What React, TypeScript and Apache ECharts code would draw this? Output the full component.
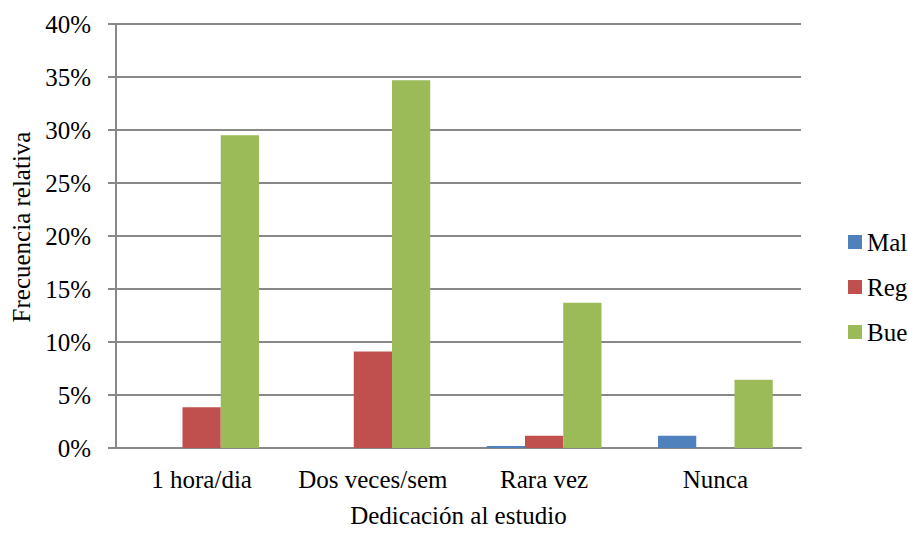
import React, { useEffect, useRef } from "react";
import * as echarts from "echarts";

const categories = ["1 hora/dia", "Dos veces/sem", "Rara vez", "Nunca"];
const seriesNames = ["Mal", "Reg", "Bue"];
const malValues = [0, 0, 0.2, 1.15];
const regValues = [3.85, 9.1, 1.15, 0];
const bueValues = [29.5, 34.7, 13.7, 6.45];
const colors = ["#4F81BD", "#C0504D", "#9BBB59"];
const yAxisTitle = "Frecuencia relativa";
const xAxisTitle = "Dedicación al estudio";

const FONT = "'Liberation Serif', 'Times New Roman', serif";
const FS = 25;

export default function App() {
  const ref = useRef<HTMLDivElement>(null);
  useEffect(() => {
    if (!ref.current) return;
    const chart = echarts.init(ref.current, undefined, { renderer: "svg" });
    const data = [malValues, regValues, bueValues];
    chart.setOption({
      animation: false,
      textStyle: { fontFamily: FONT, color: "#000" },
      grid: { left: 116, right: 107, top: 24, bottom: 81, containLabel: false },
      legend: {
        orient: "vertical",
        left: 843,
        top: 224,
        itemWidth: 14,
        itemHeight: 14,
        itemGap: 19,
        icon: "rect",
        textStyle: { fontFamily: FONT, fontSize: FS, lineHeight: 26, color: "#000" },
        data: seriesNames,
      },
      xAxis: {
        type: "category",
        data: categories,
        name: xAxisTitle,
        nameLocation: "middle",
        nameGap: 55,
        nameTextStyle: { fontFamily: FONT, fontSize: FS, color: "#000" },
        axisLine: { lineStyle: { color: "#888", width: 2 } },
        axisTick: { show: false },
        axisLabel: { fontFamily: FONT, fontSize: FS, color: "#000", margin: 19, interval: 0 },
      },
      yAxis: {
        type: "value",
        min: 0,
        max: 40,
        interval: 5,
        name: yAxisTitle,
        nameLocation: "middle",
        nameGap: 81,
        nameTextStyle: { fontFamily: FONT, fontSize: FS, color: "#000", padding: [0, 0, 0, 18] },
        axisLine: { show: true, lineStyle: { color: "#888", width: 2 } },
        axisTick: { show: true, length: 8, lineStyle: { color: "#888", width: 2 } },
        axisLabel: { fontFamily: FONT, fontSize: FS, color: "#000", margin: 25, formatter: "{value}%" },
        splitLine: { lineStyle: { color: "#888", width: 2 } },
      },
      series: seriesNames.map((n, i) => ({
        name: n,
        type: "bar",
        data: data[i],
        barGap: "0%",
        barCategoryGap: "33%",
        itemStyle: { color: colors[i] },
      })),
    });
    return () => chart.dispose();
  }, []);
  return (
    <div
      ref={ref}
      style={{ position: "absolute", left: 0, top: 0, width: 908, height: 533 }}
    />
  );
}
